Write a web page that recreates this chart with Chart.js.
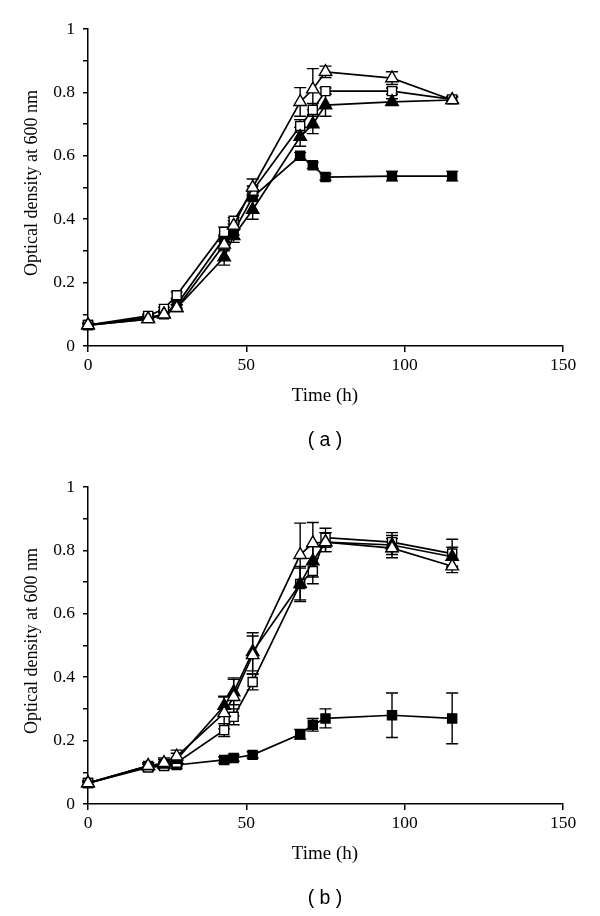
<!DOCTYPE html>
<html>
<head>
<meta charset="utf-8">
<script src="https://cdn.jsdelivr.net/npm/chart.js@4/dist/chart.umd.min.js"></script>
<style>
  html, body { margin: 0; padding: 0; background: #fff; }
  #page { position: relative; width: 600px; height: 916px; }
  .panel { position: absolute; left: 0; width: 600px; height: 458px; }
  .xtitle { position: absolute; width: 200px; height: 24px; line-height: 24px; text-align: center;
            font: 19px "Liberation Serif", "Times New Roman", serif; color: #000; }
  .ytitle { position: absolute; width: 260px; height: 22px; line-height: 22px; text-align: center;
            font: 18px "Liberation Serif", "Times New Roman", serif; color: #000; transform: rotate(-90deg); }
  .cap { position: absolute; width: 100px; height: 24px; line-height: 24px; text-align: center;
         font: 19.5px "Liberation Sans", Arial, sans-serif; color: #000; }
</style>
</head>
<body>
<div id="page">
  <div class="panel" style="top:0"><canvas id="chartA" width="600" height="458"></canvas></div>
  <div class="panel" style="top:458px"><canvas id="chartB" width="600" height="458"></canvas></div>
  <div class="ytitle" style="left:-98px; top:172px">Optical density at 600 nm</div>
  <div class="xtitle" style="left:225px; top:384px">Time (h)</div>
  <div class="cap" style="left:275px; top:428px">( a )</div>
  <div class="ytitle" style="left:-98px; top:630px">Optical density at 600 nm</div>
  <div class="xtitle" style="left:225px; top:842px">Time (h)</div>
  <div class="cap" style="left:275px; top:886px">( b )</div>
</div>
<script>
// sampling times (h)
const timeH = [0, 19, 24, 28, 43, 46, 52, 67, 71, 75, 96, 115];

// panel (a)
const aFilledSq = [0.066, 0.09, 0.10, 0.13, 0.34, 0.36, 0.47, 0.60, 0.57, 0.533, 0.536, 0.536];
const aOpenSq   = [0.066, 0.095, 0.117, 0.16, 0.36, 0.395, 0.49, 0.694, 0.745, 0.804, 0.804, 0.778];
const aFilledTr = [0.066, 0.085, 0.10, 0.12, 0.28, 0.347, 0.43, 0.66, 0.70, 0.76, 0.77, 0.776];
const aOpenTr   = [0.066, 0.085, 0.10, 0.12, 0.32, 0.38, 0.50, 0.77, 0.81, 0.865, 0.845, 0.776];
const aErrFilledSq = [0.005, 0.005, 0.005, 0.01, 0.01, 0.01, 0.01, 0.01, 0.01, 0.01, 0.015, 0.015];
const aErrOpenSq   = [0.005, 0.005, 0.005, 0.01, 0.015, 0.01, 0.015, 0.02, 0.02, 0.01, 0.01, 0.01];
const aErrFilledTr = [0.005, 0.005, 0.005, 0.01, 0.025, 0.02, 0.03, 0.03, 0.03, 0.035, 0.01, 0.01];
const aErrOpenTr   = [0.005, 0.005, 0.005, 0.01, 0.02, 0.015, 0.027, 0.045, 0.065, 0.018, 0.02, 0.01];

// panel (b)
const bFilledSq = [0.066, 0.12, 0.123, 0.123, 0.139, 0.145, 0.155, 0.22, 0.25, 0.27, 0.28, 0.27];
const bOpenSq   = [0.066, 0.115, 0.12, 0.13, 0.233, 0.275, 0.385, 0.694, 0.735, 0.84, 0.826, 0.79];
const bFilledTr = [0.066, 0.12, 0.125, 0.14, 0.31, 0.353, 0.48, 0.694, 0.766, 0.826, 0.817, 0.78];
const bOpenTr   = [0.066, 0.12, 0.13, 0.15, 0.287, 0.338, 0.47, 0.786, 0.823, 0.826, 0.807, 0.75];
const bErrFilledSq = [0.005, 0.01, 0.01, 0.01, 0.01, 0.01, 0.01, 0.015, 0.02, 0.03, 0.07, 0.08];
const bErrOpenSq   = [0.005, 0.01, 0.01, 0.01, 0.02, 0.025, 0.025, 0.055, 0.04, 0.03, 0.03, 0.045];
const bErrFilledTr = [0.005, 0.01, 0.015, 0.02, 0.03, 0.04, 0.06, 0.05, 0.05, 0.03, 0.03, 0.03];
const bErrOpenTr   = [0.005, 0.01, 0.015, 0.02, 0.05, 0.06, 0.06, 0.1, 0.065, 0.03, 0.03, 0.02];

const serif = '"Liberation Serif", "Times New Roman", serif';

// vertical error bars with caps, drawn under the markers
const errorBars = {
    id: 'errorBars',
    beforeDatasetsDraw(chart) {
        const { ctx, scales: { x, y } } = chart;
        ctx.save();
        ctx.strokeStyle = '#000';
        ctx.lineWidth = 1.4;
        chart.data.datasets.forEach(ds => {
            ds.data.forEach((p, i) => {
                const e = ds.errors[i];
                if (!e) return;
                const px = x.getPixelForValue(p.x);
                const top = y.getPixelForValue(p.y + e);
                const bot = y.getPixelForValue(p.y - e);
                ctx.beginPath();
                ctx.moveTo(px, top); ctx.lineTo(px, bot);
                ctx.moveTo(px - 6, top); ctx.lineTo(px + 6, top);
                ctx.moveTo(px - 6, bot); ctx.lineTo(px + 6, bot);
                ctx.stroke();
            });
        });
        ctx.restore();
    }
};

const series = (vals, errs, style, fill) => ({
    data: timeH.map((t, i) => ({ x: t, y: vals[i] })),
    errors: errs,
    borderColor: '#000',
    borderWidth: 1.7,
    pointStyle: style,
    pointRadius: style === 'rect' ? 6.4 : 7.2,
    pointBackgroundColor: fill,
    pointBorderColor: '#000',
    pointBorderWidth: 1.4,
    tension: 0,
    clip: false
});

const makeChart = (id, sets) => new Chart(document.getElementById(id), {
    type: 'line',
    data: {
        datasets: [
            series(sets[3], sets[7], 'triangle', '#fff'),
            series(sets[2], sets[6], 'triangle', '#000'),
            series(sets[1], sets[5], 'rect', '#fff'),
            series(sets[0], sets[4], 'rect', '#000')
        ]
    },
    options: {
        responsive: false,
        animation: false,
        layout: { padding: { top: 29, right: 37, left: 0, bottom: 0 } },
        plugins: { legend: { display: false }, tooltip: { enabled: false } },
        scales: {
            x: {
                type: 'linear',
                min: 0, max: 150,
                border: { color: '#000', width: 1.5 },
                grid: { drawOnChartArea: false, drawTicks: true, tickLength: 6, color: '#000', lineWidth: 1.5 },
                ticks: { stepSize: 50, color: '#000', font: { family: serif, size: 17.5 }, padding: 3, maxRotation: 0 },
                afterFit: s => { s.height = 112; }
            },
            y: {
                min: 0, max: 1,
                border: { color: '#000', width: 1.5 },
                grid: { drawOnChartArea: false, drawTicks: true, tickLength: 5, color: '#000', lineWidth: 1.5 },
                ticks: {
                    stepSize: 0.1, color: '#000', font: { family: serif, size: 17.5 }, padding: 8,
                    callback: v => {
                        const k = Math.round(v * 10);
                        return k % 2 ? '' : String(k / 10);
                    }
                },
                afterFit: s => { s.width = 88; }
            }
        }
    },
    plugins: [errorBars]
});

makeChart('chartA', [aFilledSq, aOpenSq, aFilledTr, aOpenTr, aErrFilledSq, aErrOpenSq, aErrFilledTr, aErrOpenTr]);
makeChart('chartB', [bFilledSq, bOpenSq, bFilledTr, bOpenTr, bErrFilledSq, bErrOpenSq, bErrFilledTr, bErrOpenTr]);
</script>
</body>
</html>
